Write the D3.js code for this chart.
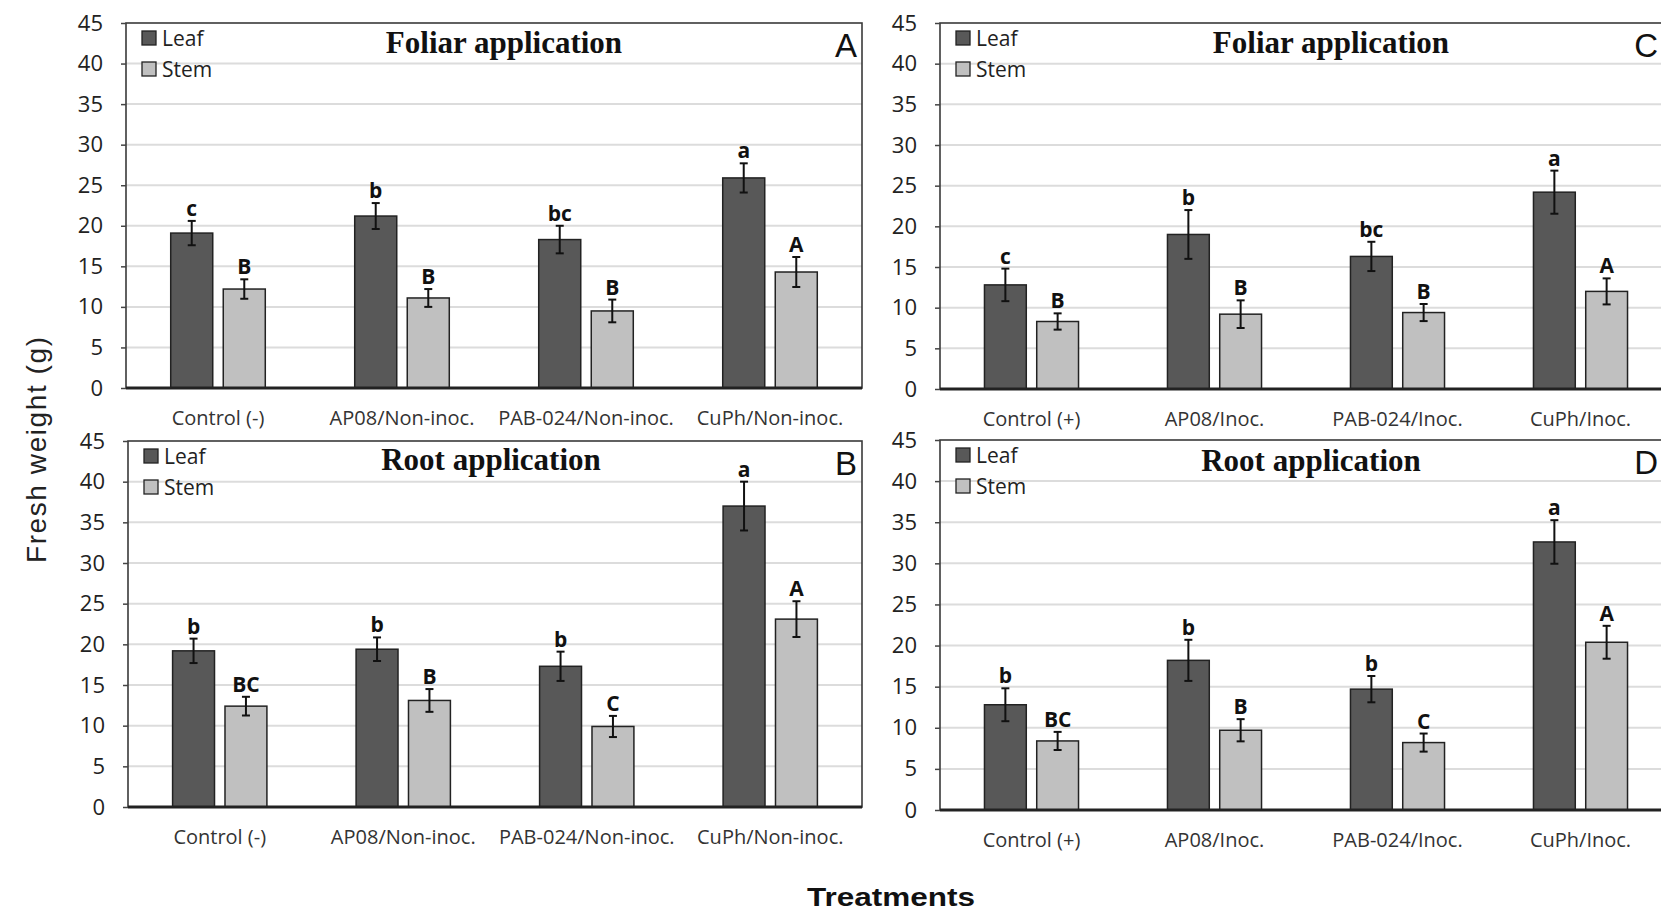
<!DOCTYPE html>
<html>
<head>
<meta charset="utf-8">
<script src="https://cdn.jsdelivr.net/npm/d3@7"></script>
<style>
  html, body { margin: 0; padding: 0; background: #fff; }
  svg { display: block; }
</style>
</head>
<body>
<svg id="chart" width="1661" height="912"></svg>
<script>
// ---------- DATA ----------
const categoriesNonInoc = ["Control (-)", "AP08/Non-inoc.", "PAB-024/Non-inoc.", "CuPh/Non-inoc."];
const categoriesInoc = ["Control (+)", "AP08/Inoc.", "PAB-024/Inoc.", "CuPh/Inoc."];
const series = ["Leaf", "Stem"];
const yTicks = [0, 5, 10, 15, 20, 25, 30, 35, 40, 45];

// Panel A: Foliar application, non-inoculated
const leafA = [19.1, 21.2, 18.3, 25.9];
const leafErrA = [1.5, 1.6, 1.7, 1.8];
const stemA = [12.2, 11.1, 9.5, 14.3];
const stemErrA = [1.2, 1.1, 1.4, 1.85];
const leafLettersA = ["c", "b", "bc", "a"];
const stemLettersA = ["B", "B", "B", "A"];

// Panel B: Root application, non-inoculated
const leafB = [19.2, 19.4, 17.3, 37.0];
const leafErrB = [1.5, 1.45, 1.8, 3.0];
const stemB = [12.4, 13.1, 9.9, 23.1];
const stemErrB = [1.15, 1.4, 1.3, 2.2];
const leafLettersB = ["b", "b", "b", "a"];
const stemLettersB = ["BC", "B", "C", "A"];

// Panel C: Foliar application, inoculated
const leafC = [12.8, 19.0, 16.3, 24.2];
const leafErrC = [2.0, 3.0, 1.8, 2.65];
const stemC = [8.3, 9.2, 9.4, 12.0];
const stemErrC = [1.0, 1.7, 1.05, 1.6];
const leafLettersC = ["c", "b", "bc", "a"];
const stemLettersC = ["B", "B", "B", "A"];

// Panel D: Root application, inoculated
const leafD = [12.8, 18.2, 14.7, 32.6];
const leafErrD = [2.0, 2.5, 1.6, 2.65];
const stemD = [8.4, 9.7, 8.2, 20.4];
const stemErrD = [1.1, 1.35, 1.1, 2.0];
const leafLettersD = ["b", "b", "b", "a"];
const stemLettersD = ["BC", "B", "C", "A"];

const panelTitles = ["Foliar application", "Root application", "Foliar application", "Root application"];
const panelLetters = ["A", "B", "C", "D"];
const yTitle = "Fresh weight (g)";
const xTitle = "Treatments";

// ---------- LAYOUT ----------
const layouts = [
  { x0: 126, x1: 862, yTop: 23, yBot: 388, titleX: 504, titleY: 53 },
  { x0: 128, x1: 862, yTop: 441, yBot: 807, titleX: 491, titleY: 470 },
  { x0: 940, x1: 1672, yTop: 23, yBot: 389, titleX: 1331, titleY: 53 },
  { x0: 940, x1: 1672, yTop: 440, yBot: 810, titleX: 1311, titleY: 471 }
];
const panels = [
  { cats: categoriesNonInoc, vals: [leafA, stemA], errs: [leafErrA, stemErrA], letters: [leafLettersA, stemLettersA] },
  { cats: categoriesNonInoc, vals: [leafB, stemB], errs: [leafErrB, stemErrB], letters: [leafLettersB, stemLettersB] },
  { cats: categoriesInoc, vals: [leafC, stemC], errs: [leafErrC, stemErrC], letters: [leafLettersC, stemLettersC] },
  { cats: categoriesInoc, vals: [leafD, stemD], errs: [leafErrD, stemErrD], letters: [leafLettersD, stemLettersD] }
];
const colors = { Leaf: "#585858", Stem: "#c0c0c0" };
const sansFont = "'Open Sans', 'Noto Sans', sans-serif";
const W = 1661;

const svg = d3.select("#chart");

panels.forEach((p, i) => {
  const L = layouts[i];
  const g = svg.append("g");
  const y = d3.scaleLinear().domain([0, 45]).range([L.yBot, L.yTop]);
  const x0 = d3.scaleBand().domain(p.cats).range([L.x0, L.x1]).paddingInner(0).paddingOuter(0);
  const bw = x0.bandwidth();
  const x1 = d3.scaleBand().domain(series).range([bw * 0.243, bw * 0.757]).paddingInner(0.2);

  // gridlines
  g.append("g").selectAll("line").data(yTicks.filter(t => t > 0 && t < 45)).join("line")
    .attr("x1", L.x0).attr("x2", L.x1)
    .attr("y1", d => y(d)).attr("y2", d => y(d))
    .attr("stroke", "#dcdcdc").attr("stroke-width", 2);

  // frame
  g.append("rect").attr("x", L.x0).attr("y", y(45)).attr("width", L.x1 - L.x0).attr("height", y(0) - y(45))
    .attr("fill", "none").attr("stroke", "#3a3a3a").attr("stroke-width", 1.6);

  // y axis ticks & labels
  const yAxis = d3.axisLeft(y).tickValues(yTicks).tickSize(5).tickPadding(18).tickFormat(d3.format("d"));
  const ya = g.append("g").attr("transform", `translate(${L.x0},0)`).call(yAxis);
  ya.select(".domain").remove();
  ya.selectAll(".tick line").attr("stroke", "#444").attr("stroke-width", 1.5);
  ya.selectAll(".tick text").attr("font-family", sansFont).attr("font-size", 22).attr("fill", "#222");

  // bars
  const data = [];
  p.cats.forEach((c, ci) => {
    series.forEach((s, si) => {
      data.push({ cat: c, s, v: p.vals[si][ci], e: p.errs[si][ci], lab: p.letters[si][ci] });
    });
  });
  const bars = g.append("g");
  bars.selectAll("rect").data(data).join("rect")
    .attr("x", d => x0(d.cat) + x1(d.s))
    .attr("y", d => y(d.v))
    .attr("width", x1.bandwidth())
    .attr("height", d => y(0) - y(d.v))
    .attr("fill", d => colors[d.s])
    .attr("stroke", "#222").attr("stroke-width", 1.5);

  // error bars
  const eb = g.append("g").attr("stroke", "#111").attr("stroke-width", 2);
  data.forEach(d => {
    const cx = x0(d.cat) + x1(d.s) + x1.bandwidth() / 2;
    eb.append("line").attr("x1", cx).attr("x2", cx).attr("y1", y(d.v + d.e)).attr("y2", y(d.v - d.e));
    eb.append("line").attr("x1", cx - 4).attr("x2", cx + 4).attr("y1", y(d.v + d.e)).attr("y2", y(d.v + d.e));
    eb.append("line").attr("x1", cx - 4).attr("x2", cx + 4).attr("y1", y(d.v - d.e)).attr("y2", y(d.v - d.e));
  });

  // significance letters
  g.append("g").selectAll("text").data(data).join("text")
    .attr("x", d => x0(d.cat) + x1(d.s) + x1.bandwidth() / 2)
    .attr("y", d => y(d.v + d.e) - 5)
    .attr("text-anchor", "middle")
    .attr("font-family", sansFont).attr("font-weight", "bold").attr("font-size", 21).attr("fill", "#111")
    .text(d => d.lab);

  // x axis baseline
  g.append("line").attr("x1", L.x0).attr("x2", L.x1).attr("y1", y(0)).attr("y2", y(0))
    .attr("stroke", "#222").attr("stroke-width", 3);

  // category labels
  const xAxis = d3.axisBottom(x0).tickSize(0).tickPadding(0);
  const xa = g.append("g").attr("transform", `translate(0,${y(0)})`).call(xAxis);
  xa.select(".domain").remove();
  xa.selectAll(".tick text").attr("y", 37).attr("dy", 0)
    .attr("font-family", sansFont).attr("font-size", 20).attr("fill", "#333");

  // legend
  const lg = g.append("g");
  series.forEach((s, si) => {
    lg.append("rect").attr("x", L.x0 + 16).attr("y", L.yTop + 8 + si * 31).attr("width", 14).attr("height", 14)
      .attr("fill", colors[s]).attr("stroke", "#222").attr("stroke-width", 1.3);
    lg.append("text").attr("x", L.x0 + 36).attr("y", L.yTop + 23 + si * 31)
      .attr("font-family", sansFont).attr("font-size", 21).attr("fill", "#222").text(s);
  });

  // panel title
  g.append("text").attr("x", L.titleX).attr("y", L.titleY).attr("text-anchor", "middle")
    .attr("font-family", "'Liberation Serif', 'Times New Roman', serif").attr("font-weight", "bold")
    .attr("font-size", 31).attr("fill", "#111").text(panelTitles[i]);

  // panel letter (kept inside the visible page)
  g.append("text").attr("x", Math.min(L.x1 - 5, W - 3)).attr("y", L.yTop + 34).attr("text-anchor", "end")
    .attr("font-family", "'Liberation Sans', Arial, sans-serif")
    .attr("font-size", 33).attr("fill", "#111").text(panelLetters[i]);
});

// axis titles
svg.append("text").attr("transform", "translate(46,450) rotate(-90)").attr("text-anchor", "middle")
  .attr("font-family", "'Liberation Sans', Arial, sans-serif").attr("font-size", 28).attr("fill", "#222")
  .attr("textLength", 226).attr("lengthAdjust", "spacing")
  .text(yTitle);

svg.append("text").attr("x", 891).attr("y", 906).attr("text-anchor", "middle")
  .attr("font-family", "'Liberation Sans', Arial, sans-serif").attr("font-weight", "bold").attr("font-size", 25)
  .attr("fill", "#111").attr("textLength", 168).attr("lengthAdjust", "spacingAndGlyphs")
  .text(xTitle);
</script>
</body>
</html>
